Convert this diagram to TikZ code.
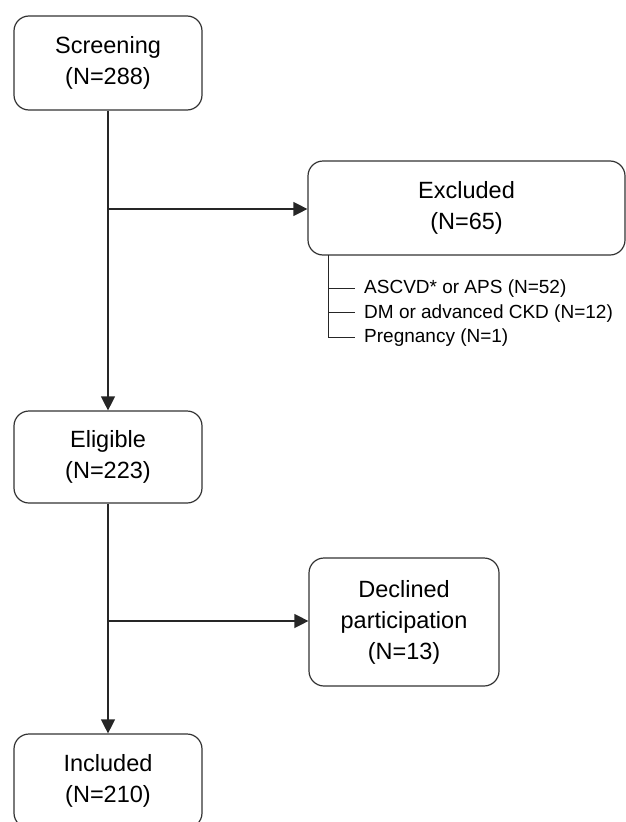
\documentclass[tikz,border=0pt]{standalone}
\usepackage{fontspec}
\setmainfont{Liberation Sans}
\usetikzlibrary{arrows.meta}
\begin{document}
\begin{tikzpicture}[x=1pt,y=-1pt,
  box/.style={draw=black!80, line width=1.2pt, rounded corners=15pt, fill=white,
    align=center, inner sep=0pt, font=\fontsize{23.5}{31}\selectfont},
  conn/.style={draw=black!85, line width=1.3pt},
  arr/.style={conn, -{Triangle[length=14pt,width=14pt]}},
  item/.style={anchor=west, inner sep=0pt, font=\fontsize{19}{24}\selectfont}]
\useasboundingbox (0,0) rectangle (626,822);
\node[box, minimum width=188pt, minimum height=94pt] (scr) at (108,63) {Screening\\(N=288)};
\node[box, minimum width=317pt, minimum height=94pt] (exc) at (466.5,208) {Excluded\\(N=65)};
\node[box, minimum width=188pt, minimum height=92pt] (eli) at (108,457) {Eligible\\(N=223)};
\node[box, minimum width=190pt, minimum height=128pt] (dec) at (404,622) {Declined\\participation\\(N=13)};
\node[box, minimum width=188pt, minimum height=94pt] (inc) at (108,781) {Included\\(N=210)};
\coordinate (b1) at (108,209);
\coordinate (b2) at (108,621);
\draw[arr] (scr.south) -- (eli.north);
\draw[arr] (eli.south) -- (inc.north);
\draw[arr] (b1) -- (b1 -| exc.west);
\draw[arr] (b2) -- (b2 -| dec.west);
\coordinate (bt) at (328,255);
\coordinate (t1) at (328,288);
\coordinate (t2) at (328,312.5);
\coordinate (t3) at (328,337);
\node[item] (i1) at (364,289) {ASCVD* or APS (N=52)};
\node[item] (i2) at (364,313.5) {DM or advanced CKD (N=12)};
\node[item] (i3) at (364,338) {Pregnancy (N=1)};
\draw[conn, line width=1pt] (bt) -- (t3) -- ++(27,0);
\draw[conn, line width=1pt] (t1) -- ++(27,0);
\draw[conn, line width=1pt] (t2) -- ++(27,0);
\end{tikzpicture}
\end{document}
